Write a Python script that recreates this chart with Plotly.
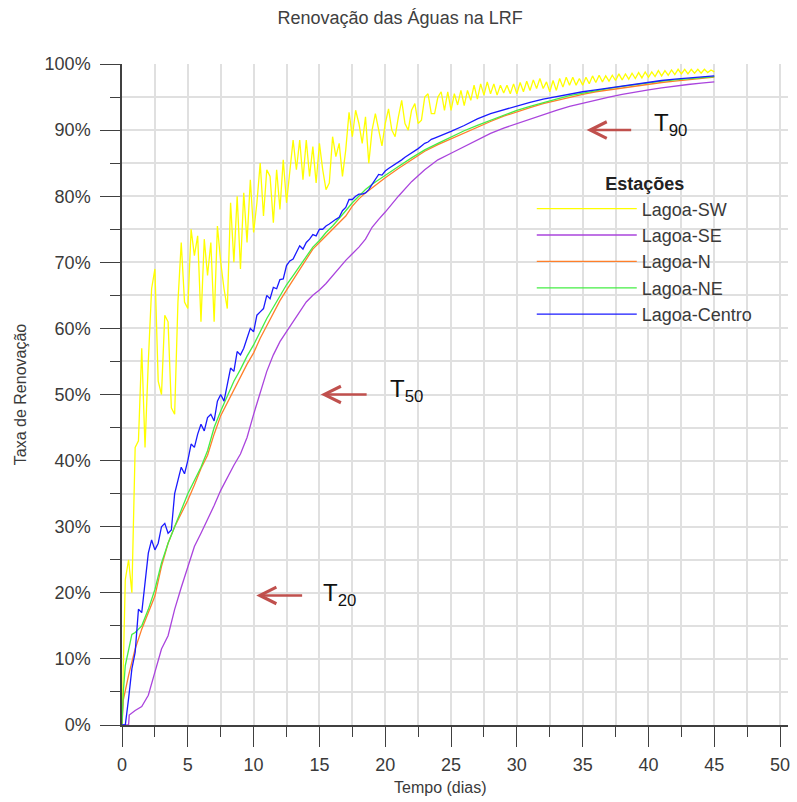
import plotly.graph_objects as go

# ---------------- data ----------------
dias_sw = [i * 0.25 for i in range(181)]
lagoa_sw = [
    0, 22, 25, 20, 42, 43, 57, 42, 55, 66, 69, 52, 50, 62, 61, 48, 47, 64, 73, 64,
    63, 75, 71, 74, 61, 73.5, 68, 73, 61, 75.5, 70, 66, 63, 79, 70, 80, 69, 80.5, 73, 82.5,
    74.5, 79, 85, 77, 84, 83, 76, 84, 78, 85.5, 79, 84, 88.5, 84, 88.5, 82.5, 88.5, 83, 87.5, 82,
    88, 84, 81, 82, 89, 86, 88, 83, 87, 92.7, 89, 93, 91, 88, 92, 85, 90, 92.5, 90, 87.6,
    91, 93.2, 90, 89, 92, 94.5, 91, 90, 93, 94, 91, 91.5, 95, 95.5, 92.5, 92.5, 95, 95.8, 93, 95.8,
    93, 95.5, 93.8, 96, 93.7, 96, 94.5, 96.8, 94.7, 97, 95.3, 97.3, 95.5, 97, 95.3, 96.8, 95.6, 96.8, 95.5, 97,
    95.5, 97.2, 95.8, 97.4, 96, 97.6, 96.3, 97.8, 96.3, 97.3, 95.8, 97.5, 96, 97.8, 96.5, 98, 96.8, 98, 96.8, 97.8,
    96.8, 98, 97, 98.2, 97.2, 98.3, 97.3, 98.2, 97.4, 98.3, 97.5, 98.5, 97.6, 98.5, 97.7, 98.6, 97.8, 98.7, 97.9, 98.8,
    98, 98.8, 98.1, 99, 98.2, 99, 98.3, 99.1, 98.4, 99.2, 98.5, 99.2, 98.5, 99.2, 98.6, 99.2, 98.6, 99.2, 98.7, 99.1,
    98.8,
]

dias_se = [0, 0.25, 0.5, 0.55, 0.75, 1, 1.5, 2, 2.5, 3, 3.5, 4, 4.5, 5, 5.5, 6, 6.5, 7, 7.5, 8,
           8.5, 9, 9.5, 10, 10.5, 11, 11.5, 12, 12.5, 13, 13.5, 14, 14.5, 15, 15.5, 16, 16.5, 17,
           17.5, 18, 18.5, 19, 19.5, 20, 21, 22, 23, 24, 25, 26, 27, 28, 29, 30, 31, 32, 33, 34,
           35, 36, 37, 38, 39, 40, 41, 42, 43, 44, 45]
lagoa_se = [0, 0, 0, 1.5, 1.8, 2.2, 2.8, 4.5, 8, 11.5, 13.5, 17.5, 20.8, 24, 27, 29, 31, 33.2, 35.5, 37.5,
            39.3, 41, 43.5, 47, 50.3, 53.5, 56, 58, 59.5, 61, 62.5, 64, 65, 65.8, 66.8, 68, 69.2, 70.3,
            71.3, 72.3, 73.5, 75.3, 76.5, 77.6, 80, 82.2, 84, 85.5, 86.5, 87.5, 88.5, 89.5, 90.3, 91, 91.7,
            92.4, 93, 93.6, 94.1, 94.6, 95, 95.4, 95.8, 96.1, 96.4, 96.7, 96.9, 97.1, 97.3]

dias_n = [0, 0.1, 0.5, 1, 1.5, 2, 2.5, 3, 3.5, 4, 4.5, 5, 5.5, 6, 6.5, 7, 7.5, 8, 8.5, 9, 9.5, 10,
          10.5, 11, 11.5, 12, 12.5, 13, 13.5, 14, 14.5, 15, 15.5, 16, 16.5, 17, 17.5, 18, 18.5, 19,
          19.5, 20, 21, 22, 23, 24, 25, 26, 27, 28, 29, 30, 31, 32, 33, 34, 35, 36, 37, 38, 39, 40,
          41, 42, 43, 44, 45]
lagoa_n = [0, 3.8, 7.5, 11.5, 14.5, 17, 19.5, 24, 27.5, 30, 32, 34, 36.3, 38.8, 40.8, 44, 46.8, 48.8,
           50.8, 52.8, 54.6, 56.3, 58.5, 60.4, 62.3, 64.2, 65.8, 67.4, 69, 70.5, 72, 73, 74, 75, 76,
           77, 78.5, 79.6, 80.5, 81.3, 82, 82.8, 84.2, 85.5, 86.8, 87.8, 88.7, 89.6, 90.5, 91.3, 92.1,
           92.8, 93.4, 94, 94.5, 95, 95.4, 95.8, 96.1, 96.4, 96.7, 97, 97.2, 97.4, 97.6, 97.8, 98]

dias_ne = [0, 0.1, 0.25, 0.5, 0.75, 1, 1.5, 2, 2.5, 3, 3.5, 4, 4.5, 5, 5.5, 6, 6.5, 7, 7.5, 8, 8.5,
           9, 9.5, 10, 10.5, 11, 11.5, 12, 12.5, 13, 13.5, 14, 14.5, 15, 15.5, 16, 16.5, 17, 17.5,
           18, 18.5, 19, 19.5, 20, 21, 22, 23, 24, 25, 26, 27, 28, 29, 30, 31, 32, 33, 34, 35, 36,
           37, 38, 39, 40, 41, 42, 43, 44, 45]
lagoa_ne = [0, 5, 9, 11.5, 13.7, 14, 15, 17.5, 20.5, 24.5, 27.5, 30, 32.5, 35, 37, 39, 41.5, 45, 47.5,
            49.8, 52, 53.8, 55.8, 57.5, 59.6, 61.5, 63.2, 65, 66.6, 68, 69.5, 71, 72.3, 73.3, 74.5,
            75.5, 76.6, 77.8, 79, 80, 81, 81.8, 82.5, 83.2, 84.5, 85.8, 87, 88, 89, 89.9, 90.7, 91.5,
            92.3, 93, 93.6, 94.2, 94.7, 95.2, 95.6, 96, 96.3, 96.6, 96.9, 97.2, 97.4, 97.6, 97.8, 97.9,
            98.1]

dias_centro = [i * 0.25 for i in range(101)] + list(range(26, 46))
lagoa_centro = [
    0, 0, 4, 8.5, 11, 17.5, 17, 22, 26, 28, 26.5, 27.5, 30, 30.5, 29, 29.5, 35, 37, 39, 38,
    40, 42.5, 42, 44, 45.5, 44.5, 46.5, 47, 46, 49, 50, 49, 51.5, 54, 53.5, 56.5, 56, 57, 58.5, 60,
    59.5, 62, 62.5, 63, 65, 64.5, 66.2, 66, 67.4, 67.5, 69.5, 70.2, 70.5, 71.5, 72.5, 72, 73, 73.5, 74.2, 74,
    75, 75, 75.5, 75.8, 76.2, 76.5, 76.8, 77.8, 78.3, 79.5, 79.5, 80, 80.3, 80.3, 80.5, 81, 81.8, 82.5, 83.3, 83.2,
    83.8, 84.2, 84.5, 84.8, 85.2, 85.5, 85.9, 86.2, 86.5, 86.8, 87.2, 87.6, 88, 88.2, 88.6, 88.8, 89, 89.2, 89.4, 89.5,
    89.8,
    90.7, 91.7, 92.5, 93.1, 93.6, 94.2, 94.7, 95.1, 95.5, 95.8, 96.1, 96.4, 96.7, 97, 97.3, 97.5, 97.7,
    97.9, 98, 98.2,
]

series = [
    ("Lagoa-SW", dias_sw, lagoa_sw, "#FFFF00"),
    ("Lagoa-SE", dias_se, lagoa_se, "#AA44DD"),
    ("Lagoa-N", dias_n, lagoa_n, "#FF7F2A"),
    ("Lagoa-NE", dias_ne, lagoa_ne, "#44EE44"),
    ("Lagoa-Centro", dias_centro, lagoa_centro, "#1A1AFF"),
]

# arrows: (label, head_x, tail_x, y, text_x, text_y)
marcas = [
    ("T<sub>90</sub>", 35.3, 38.8, 90.0, 40.25, 90.8),
    ("T<sub>50</sub>", 15.1, 18.7, 50.0, 20.2, 50.6),
    ("T<sub>20</sub>", 10.2, 13.8, 19.6, 15.15, 19.7),
]

# ---------------- figure ----------------
fig = go.Figure()
for nome, xs, ys, cor in series:
    fig.add_trace(go.Scatter(x=xs, y=ys, mode="lines", name=nome, legendgroup=nome,
                             line=dict(color=cor, width=1.3)))

font_family = "Liberation Sans, Arial, sans-serif"
axis_col = "#404040"
grid_col = "#E0E0E0"
txt_col = "#3A3A3A"

fig.update_layout(
    width=797, height=802,
    margin=dict(l=122, r=7, t=64, b=77),
    paper_bgcolor="white", plot_bgcolor="white",
    font=dict(family=font_family, size=18, color=txt_col),
    title=dict(text="Renovação das Águas na LRF", x=0.502, xanchor="center",
               y=1 - 18 / 802, yanchor="middle", font=dict(size=18, color="#404040")),
    showlegend=True,
    legend=dict(x=(533 - 122) / 668, xanchor="left", y=1 - (167 - 64) / 661, yanchor="top",
                bgcolor="rgba(0,0,0,0)", itemwidth=100, tracegroupgap=0,
                font=dict(size=18, color=txt_col),
                title=dict(text="<b>Estações</b>", side="top center",
                           font=dict(size=18, color="#222222"))),
)

fig.update_xaxes(
    range=[0, 50.6], tick0=0, dtick=5, ticks="outside", ticklen=20, tickwidth=1.3,
    tickcolor=axis_col, showline=True, linecolor=axis_col, linewidth=1.5,
    showgrid=True, gridcolor=grid_col, gridwidth=1.5, zeroline=False,
    ticklabelstandoff=3,
    minor=dict(dtick=2.5, ticklen=10, tickcolor=axis_col, tickwidth=1.3, ticks="outside",
               showgrid=True, gridcolor=grid_col, gridwidth=1.5),
    tickfont=dict(size=18, color=txt_col),
)
fig.update_yaxes(
    range=[0, 100], tick0=0, dtick=10, ticksuffix="%", ticks="outside", ticklen=20, tickwidth=1.3,
    tickcolor=axis_col, showline=True, linecolor=axis_col, linewidth=1.5,
    showgrid=True, gridcolor=grid_col, gridwidth=1.5, zeroline=False,
    ticklabelstandoff=6,
    minor=dict(dtick=5, ticklen=10, tickcolor=axis_col, tickwidth=1.3, ticks="outside",
               showgrid=True, gridcolor=grid_col, gridwidth=1.5),
    title=dict(text="Taxa de Renovação", standoff=14, font=dict(size=16, color=txt_col)),
    tickfont=dict(size=18, color=txt_col),
)

# x-axis title (placed slightly left of plot centre, as in the reference)
fig.add_annotation(text="Tempo (dias)", xref="paper", yref="paper",
                   x=(441 - 122) / 668, y=-(787 - 725) / 661, xanchor="center", yanchor="middle",
                   showarrow=False, font=dict(size=16, color=txt_col))

for texto, hx, tx, y, lx, ly in marcas:
    fig.add_annotation(x=hx, y=y, ax=tx, ay=y, xref="x", yref="y", axref="x", ayref="y",
                       text="", showarrow=True, arrowhead=5, arrowsize=1.3, arrowwidth=2.5,
                       arrowcolor="#C0504D")
    fig.add_annotation(x=lx, y=ly, xref="x", yref="y", text=texto, showarrow=False,
                       xanchor="left", yanchor="middle",
                       font=dict(size=24, color="#111111", family=font_family))

fig.write_html("out.html")
